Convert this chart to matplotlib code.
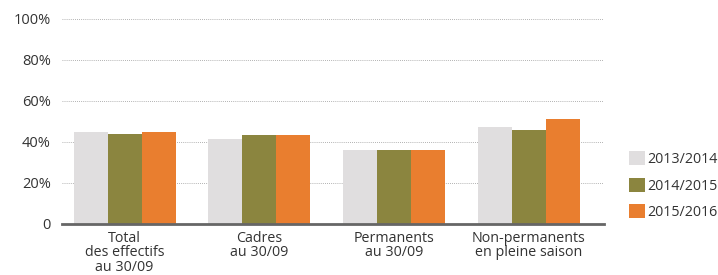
import matplotlib.pyplot as plt
import numpy as np

plt.rcParams['font.family'] = ['Open Sans', 'DejaVu Sans']

categories = ["Total\ndes effectifs\nau 30/09", "Cadres\nau 30/09",
              "Permanents\nau 30/09", "Non-permanents\nen pleine saison"]
years = ["2013/2014", "2014/2015", "2015/2016"]
values_2013 = [45, 41.5, 36, 47.5]
values_2014 = [44, 43.5, 36, 46]
values_2015 = [45, 43.5, 36, 51]
colors = ["#e0dedf", "#8b853f", "#e97e2f"]
yticks = [0, 20, 40, 60, 80, 100]
ytick_labels = ["0", "20%", "40%", "60%", "80%", "100%"]

text_color = "#333333"

fig = plt.figure(figsize=(7.18, 2.75), dpi=100)
ax = fig.add_axes([0.086, 0.1855, 0.755, 0.746])

x = np.arange(len(categories))
width = 0.252
series = [values_2013, values_2014, values_2015]
handles = []
for i, vals in enumerate(series):
    b = ax.bar(x + (i - 1) * width, vals, width, color=colors[i], label=years[i], zorder=3)
    handles.append(b)

ax.set_xlim(-0.467, 3.556)
ax.set_ylim(0, 100)
ax.set_yticks(yticks)
ax.set_yticklabels(ytick_labels, fontsize=10.5, color=text_color)
ax.yaxis.grid(True, linestyle=(0, (1, 1.5)), color="#999999", linewidth=0.6, zorder=0)
ax.tick_params(axis="y", length=0, pad=8)
ax.tick_params(axis="x", length=0, pad=5)
ax.set_xticks(x)
ax.set_xticklabels(categories, fontsize=10.3, color=text_color, linespacing=0.95)

for side in ["top", "right", "left"]:
    ax.spines[side].set_visible(False)
ax.spines["bottom"].set_color("#666666")
ax.spines["bottom"].set_linewidth(2)
ax.spines["bottom"].set_zorder(4)

leg = fig.legend(handles, years, loc="upper left", bbox_to_anchor=(0.868, 0.47),
                 frameon=False, fontsize=10.3, handlelength=1.1, handleheight=1.1,
                 handletextpad=0.2, labelspacing=0.75, borderaxespad=0)
for t in leg.get_texts():
    t.set_color(text_color)

fig.savefig("out.png", dpi=100)
